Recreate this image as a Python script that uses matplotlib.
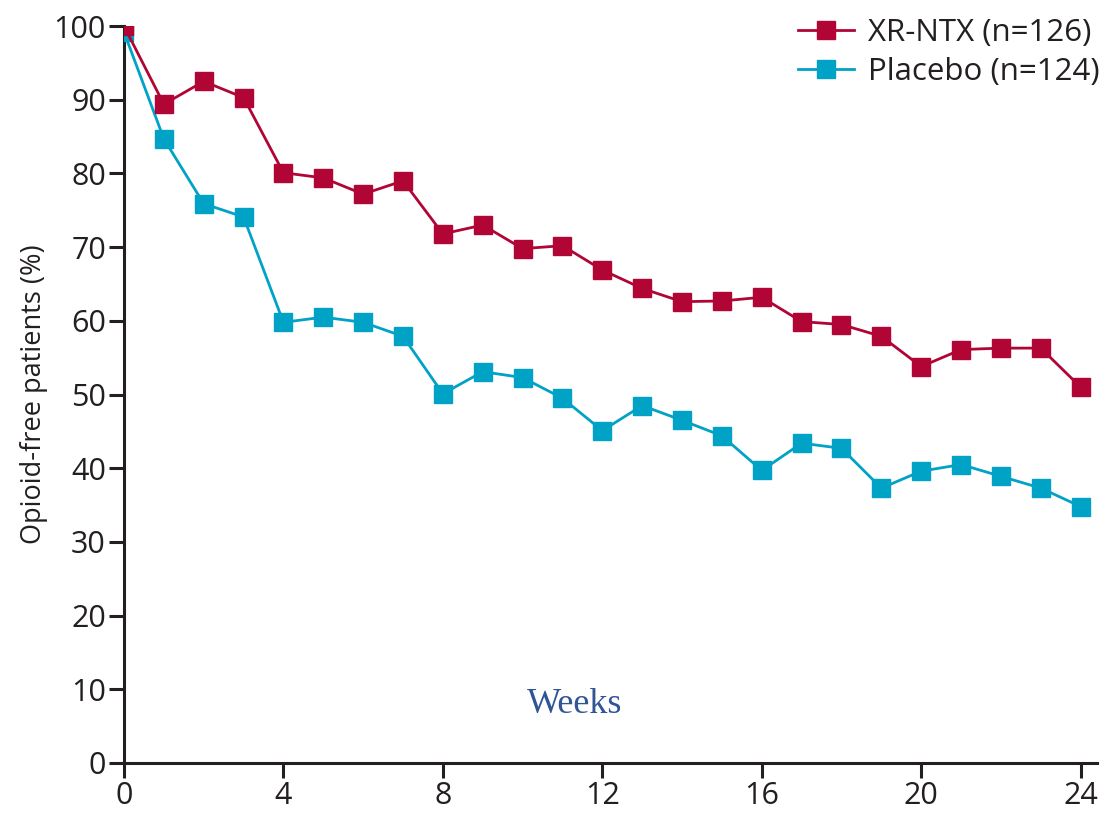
import numpy as np
import matplotlib.pyplot as plt

weeks = list(range(0, 25))
xr_ntx = [100, 89.4, 92.5, 90.3, 80.1, 79.4, 77.2, 79.0, 71.8, 73.0, 69.8, 70.2, 66.9,
          64.4, 62.6, 62.7, 63.2, 59.9, 59.5, 57.9, 53.8, 56.1, 56.3, 56.3, 51.0]
placebo = [99.2, 84.7, 75.9, 74.1, 59.8, 60.5, 59.8, 57.9, 50.1, 53.1, 52.3, 49.5, 45.1,
           48.5, 46.5, 44.4, 39.7, 43.4, 42.7, 37.3, 39.6, 40.5, 38.9, 37.3, 34.8]
labels = ["XR-NTX (n=126)", "Placebo (n=124)"]
xticks = [0, 4, 8, 12, 16, 20, 24]
yticks = list(range(0, 101, 10))

red = "#B00535"
blue = "#00A2C6"
dark = "#231F20"

plt.rcParams['font.family'] = ['Open Sans', 'DejaVu Sans']

fig = plt.figure(figsize=(11.04, 8.16), dpi=100)
ax = fig.add_axes([0.1123, 0.065, 0.881, 0.903])

ax.plot(weeks, placebo, "s-", color=blue, lw=2.0, ms=13, label=labels[1], zorder=3)
ax.plot(weeks, xr_ntx, "s-", color=red, lw=2.0, ms=13, label=labels[0], zorder=4)

ax.set_xlim(0, 24.4)
ax.set_ylim(0, 100)
ax.set_xticks(xticks)
ax.set_yticks(yticks)

for s in ["top", "right"]:
    ax.spines[s].set_visible(False)
for s in ["left", "bottom"]:
    ax.spines[s].set_linewidth(2.2)
    ax.spines[s].set_color(dark)
ax.tick_params(direction="out", length=11, width=2.2, color=dark, labelsize=22,
               labelcolor=dark, pad=2)

ax.set_ylabel("Opioid-free patients (%)", fontsize=19.5, color=dark, labelpad=4)
ax.text(11.3, 7.9, "Weeks", family="Liberation Serif", fontsize=26,
        color="#2F5597", ha="center", va="center")

handles, lbls = ax.get_legend_handles_labels()
ax.legend(handles[::-1], lbls[::-1], loc="upper right", bbox_to_anchor=(1.029, 1.045),
          frameon=False, fontsize=22.5, handlelength=1.8, handletextpad=0.45,
          labelspacing=0.3, labelcolor=dark, borderpad=0.3)

fig.savefig("out.png", dpi=100)
